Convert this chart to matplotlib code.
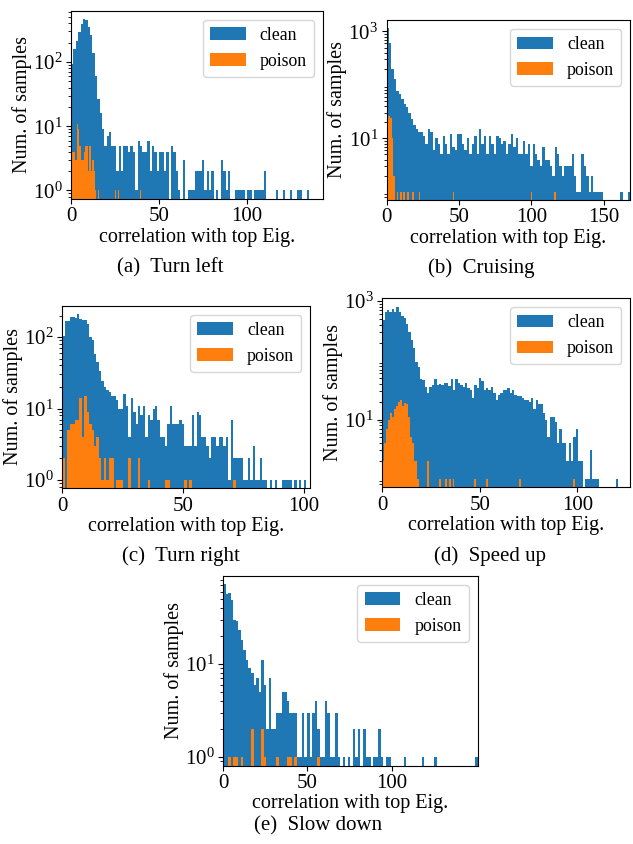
import numpy as np
import matplotlib
matplotlib.use('Agg')
import matplotlib.pyplot as plt

plt.rcParams['font.family'] = ['Liberation Serif', 'DejaVu Serif']
plt.rcParams['mathtext.fontset'] = 'stix'

# ---- data: histogram counts per bin ----
# (a) Turn left
left_clean = [92, 160, 210, 290, 390, 465, 450, 350, 260, 140,
              60, 27, 16, 9, 5, 7, 8, 5, 5, 2,
              5, 2, 5, 5, 4, 5, 4, 1, 6, 5,
              4, 4, 6, 2, 5, 4, 2, 4, 4, 2,
              4, 0, 5, 4, 2, 1, 0, 3, 0, 1,
              1, 1, 2, 2, 2, 3, 1, 2, 1, 2,
              0, 1, 0, 3, 2, 1, 2, 0, 0, 1,
              1, 1, 1, 0, 1, 1, 0, 1, 1, 1,
              1, 2, 0, 0, 0, 0, 1, 0, 0, 1,
              0, 0, 1, 0, 0, 1, 1, 0, 0, 1]
left_clean_range = (0, 135)
left_poison = [4, 4, 4, 3, 11, 9, 5, 3, 3, 4,
               5, 5, 2, 5, 2, 3, 2, 1, 0, 1,
               0, 0, 0, 0, 0, 0, 0, 0, 0, 0,
               0, 1, 0, 1, 0, 0, 0, 0, 0, 0,
               0, 0, 0, 0, 0, 0, 0, 0, 0, 1]
left_poison_range = (0, 40)

# (b) Cruising
cruise_clean = [1150, 620, 195, 127, 78, 67, 54, 44, 38, 30,
                23, 18, 15, 13, 13, 11, 8, 15, 13, 6,
                10, 8, 5, 11, 8, 5, 12, 7, 6, 12,
                12, 8, 6, 10, 5, 8, 11, 5, 15, 8,
                11, 5, 11, 8, 5, 11, 10, 8, 9, 5,
                8, 12, 7, 10, 5, 5, 9, 5, 8, 3,
                8, 5, 4, 3, 7, 4, 4, 3, 2, 7,
                5, 3, 2, 3, 3, 3, 5, 2, 1, 1,
                5, 3, 2, 1, 2, 1, 1, 1, 1, 0,
                0, 0, 0, 0, 0, 0, 1, 0, 0, 1]
cruise_clean_range = (0, 168)
cruise_poison = [26, 26, 24, 10, 2, 0, 1, 0, 1, 0,
                 1, 0, 1, 0, 0, 1, 0, 0, 0, 1,
                 0, 0, 0, 0, 0, 0, 0, 0, 0, 0,
                 0, 0, 0, 0, 0, 0, 0, 0, 0, 1,
                 0, 0, 0, 0, 0, 0, 0, 0, 0, 0,
                 0, 0, 0, 0, 0, 0, 0, 0, 0, 0,
                 0, 0, 0, 0, 0, 0, 0, 0, 0, 0,
                 0, 0, 0, 0, 0, 0, 0, 0, 0, 0,
                 0, 0, 0, 0, 0, 1, 0, 0, 0, 0,
                 0, 0, 0, 0, 0, 0, 0, 0, 0, 1]
cruise_poison_range = (0, 117)

# (c) Turn right
right_clean = [105, 165, 165, 190, 190, 185, 210, 180, 175, 175,
               150, 100, 90, 58, 45, 34, 24, 20, 18, 17,
               15, 15, 13, 10, 10, 16, 11, 4, 14, 9,
               6, 11, 8, 11, 4, 8, 7, 10, 11, 7,
               4, 4, 3, 6, 11, 6, 6, 6, 7, 6,
               3, 3, 3, 8, 3, 9, 8, 4, 4, 3,
               2, 4, 4, 3, 4, 4, 3, 4, 1, 7,
               2, 2, 2, 2, 1, 1, 2, 1, 3, 1,
               1, 2, 1, 1, 0, 1, 0, 1, 0, 0,
               1, 1, 1, 1, 0, 1, 0, 1, 0, 1]
right_clean_range = (0, 101)
right_poison = [2, 0, 5, 6, 6, 7, 7, 14, 4, 15,
                9, 6, 5, 3, 4, 2, 1, 2, 1, 2,
                2, 0, 1, 1, 1, 0, 0, 2, 0, 0,
                0, 2, 0, 0, 0, 1, 0, 0, 0, 0,
                0, 0, 1, 1, 0, 0, 0, 0, 0, 0,
                1, 0, 1, 0, 0, 0, 0, 0, 0, 0,
                0, 0, 0, 0, 0, 0, 0, 0, 0, 0, 1]
right_poison_range = (0, 71.7)

# (d) Speed up
speed_clean = [475, 650, 700, 650, 750, 650, 800, 650, 570, 510,
               415, 300, 220, 160, 95, 78, 48, 47, 36, 28,
               36, 38, 48, 38, 40, 38, 41, 42, 37, 48,
               32, 48, 41, 38, 36, 41, 34, 32, 23, 38,
               34, 50, 44, 32, 34, 32, 36, 28, 21, 26,
               28, 32, 32, 34, 28, 32, 26, 25, 25, 23,
               21, 21, 20, 23, 15, 21, 18, 18, 13, 10,
               5, 11, 11, 9, 4, 7, 4, 4, 2, 4,
               2, 5, 7, 2, 2, 0, 1, 1, 3, 1,
               1, 1, 0, 0, 0, 0, 0, 0, 0, 1]
speed_clean_range = (0, 121)
speed_poison = [2, 4, 7, 10, 13, 11, 15, 17, 20, 21,
                17, 19, 18, 11, 5, 4, 2, 2, 1, 0,
                0, 0, 0, 2, 0, 0, 0, 0, 0, 1,
                0, 0, 1, 0, 1, 0, 1, 0, 0, 0,
                0, 0, 0, 0, 0, 0, 0, 1, 0, 0,
                0, 0, 0, 1, 0, 0, 0, 0, 0, 0,
                0, 0, 0, 0, 0, 0, 0, 0, 0, 0,
                1, 0, 0, 0, 0, 0, 0, 0, 0, 0,
                0, 0, 0, 0, 0, 0, 0, 0, 0, 0,
                0, 0, 0, 0, 0, 0, 0, 0, 1, 0]
speed_poison_range = (0, 100)

# (e) Slow down
slow_clean = [72, 56, 58, 49, 30, 29, 23, 18, 14, 11,
              9, 8, 6, 7, 5, 11, 6, 2, 7, 2,
              2, 3, 3, 5, 5, 4, 3, 3, 3, 1,
              1, 3, 1, 3, 1, 3, 4, 2, 1, 1,
              4, 3, 1, 1, 3, 1, 0, 1, 0, 1,
              0, 2, 1, 2, 0, 2, 1, 1, 0, 1,
              1, 2, 1, 0, 1, 1, 0, 0, 0, 0,
              0, 1, 0, 0, 0, 0, 0, 0, 1, 0,
              0, 0, 0, 1, 0, 0, 0, 0, 0, 0,
              0, 0, 0, 0, 0, 0, 0, 0, 0, 1]
slow_clean_range = (0, 151)
slow_poison = [0, 0, 1, 0, 1, 1, 0, 1, 0, 0,
               0, 2, 0, 0, 0, 2, 1, 0, 0, 0,
               0, 1, 0, 0, 0, 1, 1, 0, 1, 0,
               0, 0, 0, 0, 0, 0, 0, 1]
slow_poison_range = (0, 57.4)

W, H = 633, 844


def rect(l, t, r, b):
    # pixel box (from top-left) -> figure fraction
    return [l / W, 1 - b / H, (r - l) / W, (b - t) / H]


def draw_panel(ax, clean, clean_range, poison, poison_range, xmax, xticks, yticks):
    for counts, rng, color, label in [(clean, clean_range, '#1f77b4', 'clean'),
                                      (poison, poison_range, '#ff7f0e', 'poison')]:
        edges = np.linspace(rng[0], rng[1], len(counts) + 1)
        ax.hist(edges[:-1], bins=edges, weights=counts, color=color,
                label=label, log=True)
    top = np.log10(max(max(clean), max(poison)))
    ax.set_ylim(10 ** (-0.05 * top), 10 ** (1.05 * top))
    ax.set_xlim(0, xmax)
    ax.set_xticks(xticks)
    ax.set_yticks(yticks)
    ax.tick_params(labelsize=15, pad=2.5)
    ax.set_xlabel('correlation with top Eig.', fontsize=14.5, labelpad=1)
    ax.set_ylabel('Num. of samples', fontsize=14.5, labelpad=1)
    ax.legend(loc='upper right', fontsize=12.8)


fig = plt.figure(figsize=(6.33, 8.44), dpi=100)

ax_a = fig.add_axes(rect(71, 10.7, 323, 199))
draw_panel(ax_a, left_clean, left_clean_range, left_poison, left_poison_range,
           143, [0, 50, 100], [1, 10, 100])

ax_b = fig.add_axes(rect(386.5, 20, 630, 200))
draw_panel(ax_b, cruise_clean, cruise_clean_range, cruise_poison, cruise_poison_range,
           168, [0, 50, 100, 150], [10, 1000])

ax_c = fig.add_axes(rect(62.3, 305.7, 310, 488.3))
draw_panel(ax_c, right_clean, right_clean_range, right_poison, right_poison_range,
           102.5, [0, 50, 100], [1, 10, 100])

ax_d = fig.add_axes(rect(382.3, 298.3, 630, 487.3))
draw_panel(ax_d, speed_clean, speed_clean_range, speed_poison, speed_poison_range,
           127, [0, 50, 100], [10, 1000])

ax_e = fig.add_axes(rect(223, 575.7, 477.5, 765.5))
draw_panel(ax_e, slow_clean, slow_clean_range, slow_poison, slow_poison_range,
           151, [0, 50, 100], [1, 10])

captions = [('(a)  Turn left', 170, 268), ('(b)  Cruising', 481, 268),
            ('(c)  Turn right', 181, 556), ('(d)  Speed up', 490, 556),
            ('(e)  Slow down', 318, 826)]
for text, x, y in captions:
    fig.text(x / W, 1 - y / H, text, ha='center', va='center', fontsize=15)

fig.savefig('out.png', dpi=100)
